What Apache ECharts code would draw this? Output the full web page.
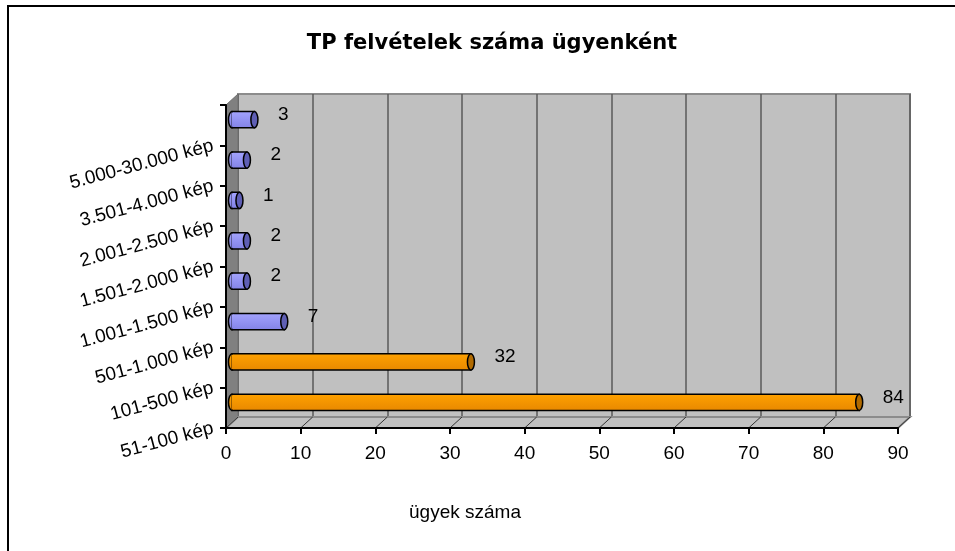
<!DOCTYPE html>
<html>
<head>
<meta charset="utf-8">
<title>TP felvételek száma ügyenként</title>
<script src="https://cdn.jsdelivr.net/npm/echarts@6/dist/echarts.min.js"></script>
<style>
  html, body { margin: 0; padding: 0; background: #fff; }
  #myChart { width: 955px; height: 551px; }
</style>
</head>
<body>
<div id="myChart"></div>
<script>
// kategóriák alulról felfelé (ECharts a kategóriatengelyt alulról rajzolja)
const categories = ['51-100 kép', '101-500 kép', '501-1.000 kép', '1.001-1.500 kép',
  '1.501-2.000 kép', '2.001-2.500 kép', '3.501-4.000 kép', '5.000-30.000 kép'];
const caseCounts = [84, 32, 7, 2, 2, 1, 2, 3];
const xMin = 0, xMax = 90, xStep = 10;

// színek kategóriánként (a két legnagyobb narancs)
const barColors = ['orange', 'orange', 'blue', 'blue', 'blue', 'blue', 'blue', 'blue'];
const palette = {
  blue: { top: '#A4A4FF', bottom: '#8282E6', cap: '#5E5EB4' },
  orange: { top: '#FFA200', bottom: '#E88800', cap: '#B06A00' }
};

// rajzterület + 3D mélység
const LEFT = 226, TOP = 105, W = 672, H = 323, DX = 12, DY = 11;
const FONT = "'Liberation Sans', Arial, sans-serif";

let myChart = echarts.init(document.getElementById('myChart'));

// padló ferde vonalai a beosztásoknál
const floorLines = [];
for (let t = xMin; t <= xMax; t += xStep) {
  const x = LEFT + W * (t - xMin) / (xMax - xMin);
  floorLines.push({
    type: 'line', z: 2,
    shape: { x1: x, y1: TOP + H, x2: x + DX, y2: TOP + H - DY },
    style: { stroke: '#333', lineWidth: 1 }
  });
}

myChart.setOption({
  animation: false,
  backgroundColor: '#fff',
  title: {
    text: 'TP felvételek száma ügyenként',
    left: 487,
    top: 28,
    textAlign: 'center',
    textStyle: { fontFamily: "'DejaVu Sans', sans-serif", fontWeight: 'bold', fontSize: 21, color: '#000' }
  },
  grid: [
    { left: LEFT + DX, top: TOP - DY, width: W, height: H, show: true,
      backgroundColor: '#C0C0C0', borderColor: '#8C8C8C', borderWidth: 2, outerBoundsMode: 'none' },
    { left: LEFT, top: TOP, width: W, height: H, outerBoundsMode: 'none' }
  ],
  xAxis: [
    {
      gridIndex: 0, type: 'value', min: xMin, max: xMax, interval: xStep,
      axisLine: { show: false }, axisTick: { show: false }, axisLabel: { show: false },
      splitLine: { show: true, lineStyle: { color: '#5a5a5a', width: 1.5 } }
    },
    {
      gridIndex: 1, type: 'value', min: xMin, max: xMax, interval: xStep, z: 5,
      axisLine: { show: true, lineStyle: { color: '#000', width: 2 } },
      axisTick: { show: true, length: 6, lineStyle: { color: '#000', width: 2 } },
      axisLabel: { margin: 16, fontSize: 19, fontFamily: FONT, color: '#000' },
      splitLine: { show: false },
      name: 'ügyek száma',
      nameLocation: 'middle',
      nameGap: 75,
      nameTextStyle: { fontSize: 19, fontFamily: FONT, color: '#000', padding: [0, 194, 0, 0] }
    }
  ],
  yAxis: [
    { gridIndex: 0, type: 'category', data: categories, show: false, position: 'left' },
    { gridIndex: 1, type: 'category', data: categories, show: false, position: 'left' },
    {
      // feliratok a beosztásvonalaknál, ahogy az Excel 3D diagramon
      gridIndex: 1, type: 'category', data: categories.concat(['']), boundaryGap: false,
      position: 'left', z: 5,
      axisLine: { show: true, lineStyle: { color: '#000', width: 2 } },
      axisTick: { show: true, length: 6, lineStyle: { color: '#000', width: 2 } },
      axisLabel: { interval: 0, rotate: 15, margin: 13, fontSize: 19, fontFamily: FONT, color: '#000' },
      splitLine: { show: false }
    }
  ],
  graphic: [
    { type: 'rect', z: 0, shape: { x: 8, y: 6, width: 980, height: 580 },
      style: { fill: 'none', stroke: '#000', lineWidth: 2 } },
    { type: 'polygon', z: 1,
      shape: { points: [[LEFT, TOP], [LEFT + DX, TOP - DY], [LEFT + DX, TOP + H - DY], [LEFT, TOP + H]] },
      style: { fill: '#808080', stroke: '#6E6E6E', lineWidth: 1 } },
    { type: 'polygon', z: 1,
      shape: { points: [[LEFT, TOP + H], [LEFT + DX, TOP + H - DY], [LEFT + DX + W, TOP + H - DY], [LEFT + W, TOP + H]] },
      style: { fill: '#C0C0C0', stroke: '#8C8C8C', lineWidth: 2 } }
  ].concat(floorLines),
  series: [
    {
      type: 'custom',
      xAxisIndex: 1,
      yAxisIndex: 1,
      z: 4,
      clip: false,
      data: caseCounts.map((v, i) => [v, i]),
      encode: { x: 0, y: 1 },
      renderItem: function (params, api) {
        const v = api.value(0);
        const idx = api.value(1);
        const start = api.coord([0, idx]);
        const end = api.coord([v, idx]);
        const band = api.size([0, 1])[1];
        const h = band * 0.4;
        const rx = 3.5;
        // félmélységre tolva
        const x0 = start[0] + DX / 2;
        const x1 = end[0] + DX / 2;
        const cy = end[1] - DY / 2;
        const c = palette[barColors[params.dataIndex]];
        const body = new echarts.graphic.LinearGradient(0, 0, 0, 1, [
          { offset: 0, color: c.top }, { offset: 1, color: c.bottom }
        ]);
        return {
          type: 'group',
          children: [
            { type: 'ellipse', shape: { cx: x0, cy: cy, rx: rx, ry: h / 2 },
              style: { fill: body, stroke: '#000', lineWidth: 1.5 } },
            { type: 'rect', shape: { x: x0, y: cy - h / 2, width: Math.max(x1 - x0, 0), height: h },
              style: { fill: body, stroke: '#000', lineWidth: 1.5 } },
            { type: 'rect', shape: { x: x0 - 0.5, y: cy - h / 2 + 1, width: 2, height: h - 2 },
              style: { fill: body } },
            { type: 'ellipse', shape: { cx: x1, cy: cy, rx: rx, ry: h / 2 },
              style: { fill: c.cap, stroke: '#000', lineWidth: 1.5 } },
            { type: 'text', x: x1 + rx + 20, y: cy - 5,
              style: { text: String(v), fontSize: 19, fontFamily: FONT, fill: '#000',
                align: 'left', verticalAlign: 'middle' } }
          ]
        };
      }
    }
  ]
});

window.onresize = function () {
  myChart.resize();
};
</script>
</body>
</html>
